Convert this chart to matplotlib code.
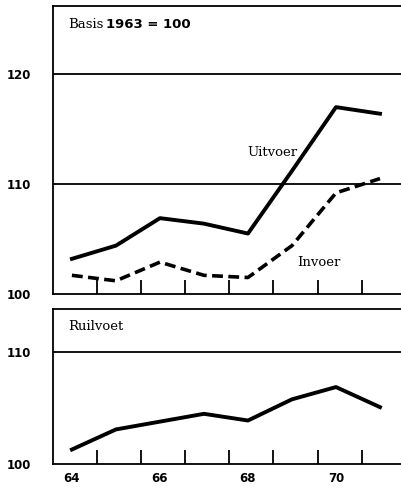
import numpy as np
import matplotlib.pyplot as plt

years = [64, 65, 66, 67, 68, 69, 70, 71]
uitvoer = [103.2, 104.4, 106.9, 106.4, 105.5, 111.2, 117.0, 116.4]
invoer = [101.7, 101.2, 102.9, 101.7, 101.5, 104.4, 109.2, 110.5]
ruilvoet = [101.3, 103.1, 103.8, 104.5, 103.9, 105.8, 106.9, 105.1]
xlabels = ['64', '', '66', '', '68', '', '70', '']

W, H = 402, 492
fig = plt.figure(figsize=(W / 100, H / 100), dpi=100)

def px_axes(l, t, r, b):
    return fig.add_axes([l / W, 1 - b / H, (r - l) / W, (b - t) / H])

ax1 = px_axes(53, 6, 402, 294)
ax2 = px_axes(53, 309, 402, 464)

num_font = dict(family='DejaVu Sans', weight='bold', size=8.5)
serif = dict(family='DejaVu Serif', size=9.5)

for ax in (ax1, ax2):
    ax.set_xlim(63.57, 71.5)
    ax.spines['right'].set_visible(False)
    for s in ('left', 'top', 'bottom'):
        ax.spines[s].set_linewidth(1.3)
    ax.set_xticks(years, minor=False)
    ax.set_xticks([y + 0.58 for y in years[:-1]], minor=True)
    ax.tick_params(axis='x', which='major', length=0, pad=6)
    ax.tick_params(axis='x', which='minor', direction='in', length=10, width=1.3)
    ax.tick_params(axis='y', length=0, pad=16)

ax1.plot(years, uitvoer, color='black', lw=2.8)
ax1.plot(years, invoer, color='black', lw=2.6, dashes=(3, 1.5))
ax1.set_ylim(100, 126.2)
ax1.set_yticks([100, 110, 120])
ax1.set_yticklabels(['100', '110', '120'], **num_font)
for v in (110, 120):
    ax1.axhline(v, color='black', lw=1.3)
ax1.set_xticklabels([])

ax2.plot(years, ruilvoet, color='black', lw=2.8)
ax2.set_ylim(100, 113.9)
ax2.set_yticks([100, 110])
ax2.set_yticklabels(['100', '110'], **num_font)
ax2.axhline(110, color='black', lw=1.3)
ax2.set_xticklabels(xlabels, **num_font)

fig.text(68 / W, 1 - 25 / H, 'Basis', va='center', ha='left', **serif)
fig.text(106 / W, 1 - 25 / H, '1963 = 100', va='center', ha='left',
         family='DejaVu Sans', weight='bold', size=9.5)
fig.text(247 / W, 1 - 152 / H, 'Uitvoer', va='center', ha='left', **serif)
fig.text(297 / W, 1 - 262 / H, 'Invoer', va='center', ha='left', **serif)
fig.text(68 / W, 1 - 327 / H, 'Ruilvoet', va='center', ha='left', **serif)

fig.savefig('out.png', dpi=100)
